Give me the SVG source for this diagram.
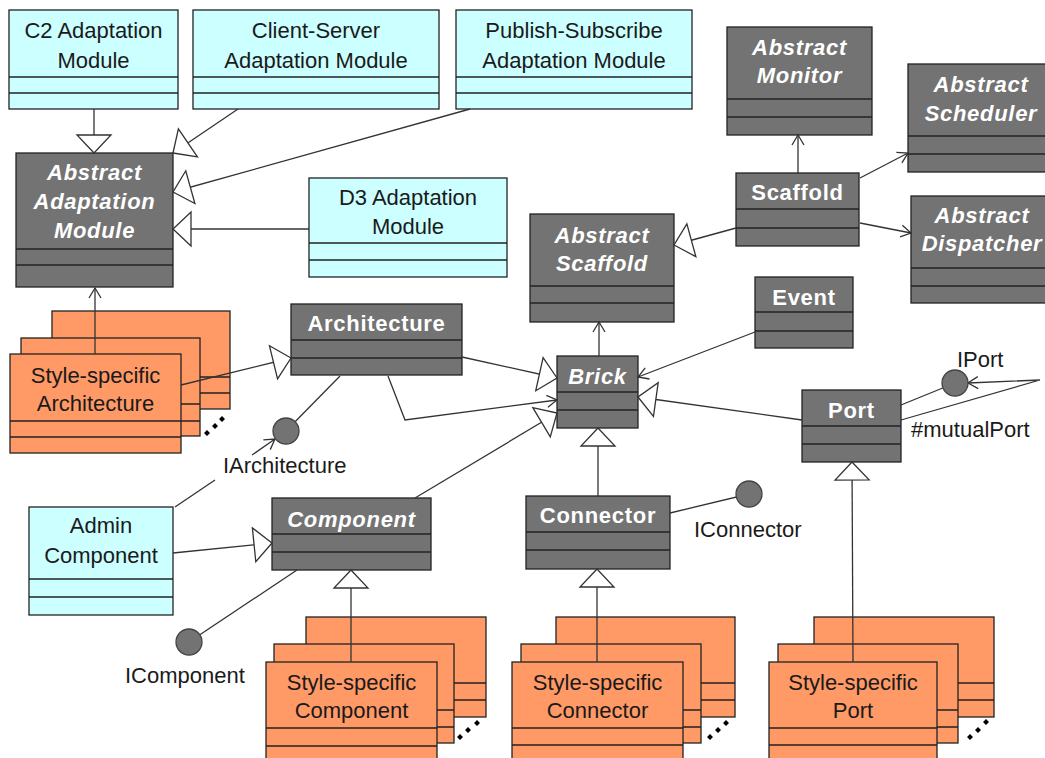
<svg xmlns="http://www.w3.org/2000/svg" width="1045" height="758" viewBox="0 0 1045 758">
<style>
.cy{fill:#CCFFFF;stroke:#222;stroke-width:1.3}
.dk{fill:#737373;stroke:#222;stroke-width:1.3}
.or{fill:#FF9966;stroke:#222;stroke-width:1.3}
.dv{stroke:#222;stroke-width:1.3}
.t{font-family:"Liberation Sans",Arial,sans-serif;font-size:22px;fill:#1a1a1a;text-anchor:middle}
.tb{font-family:"Liberation Sans",Arial,sans-serif;font-size:22px;fill:#fff;text-anchor:middle;font-weight:bold;letter-spacing:0.7px}
.ti{font-family:"Liberation Sans",Arial,sans-serif;font-size:22px;fill:#fff;text-anchor:middle;font-weight:bold;font-style:italic;letter-spacing:0.7px}
.lb{font-family:"Liberation Sans",Arial,sans-serif;font-size:22px;fill:#1a1a1a}
.c{stroke:#333;stroke-width:1.3;fill:none}
.ifc{fill:#737373;stroke:#444;stroke-width:1.3}
.dot{fill:#000}
</style>
<defs>
<marker id="gen" markerUnits="userSpaceOnUse" markerWidth="22" markerHeight="38" viewBox="-20 -19 22 38" refX="0" refY="0" orient="auto">
<path d="M0,0 L-18,-17 L-18,17 Z" fill="#fff" stroke="#333" stroke-width="1.3"/>
</marker>
<marker id="arr" markerUnits="userSpaceOnUse" markerWidth="14" markerHeight="16" viewBox="-12 -8 14 16" refX="0" refY="0" orient="auto">
<path d="M-10,-6 L0,0 L-10,6" fill="none" stroke="#333" stroke-width="1.3"/>
</marker>
</defs>

<g id="c2-adaptation-module">
<rect class="cy" x="9" y="10" width="169" height="99"/>
<line class="dv" x1="9" y1="77" x2="178" y2="77"/><line class="dv" x1="9" y1="93" x2="178" y2="93"/>
<text class="t" x="93.5" y="38">C2 Adaptation</text><text class="t" x="93.5" y="68">Module</text>
</g>
<g id="client-server-adaptation-module">
<rect class="cy" x="193" y="10" width="246" height="99"/>
<line class="dv" x1="193" y1="77" x2="439" y2="77"/><line class="dv" x1="193" y1="93" x2="439" y2="93"/>
<text class="t" x="316" y="38">Client-Server</text><text class="t" x="316" y="68">Adaptation Module</text>
</g>
<g id="publish-subscribe-adaptation-module">
<rect class="cy" x="456" y="10" width="236" height="99"/>
<line class="dv" x1="456" y1="77" x2="692" y2="77"/><line class="dv" x1="456" y1="93" x2="692" y2="93"/>
<text class="t" x="574" y="38">Publish-Subscribe</text><text class="t" x="574" y="68">Adaptation Module</text>
</g>
<g id="abstract-adaptation-module">
<rect class="dk" x="16" y="153" width="157" height="134"/>
<line class="dv" x1="16" y1="249" x2="173" y2="249"/><line class="dv" x1="16" y1="265" x2="173" y2="265"/>
<text class="ti" x="94.5" y="180">Abstract</text><text class="ti" x="94.5" y="209">Adaptation</text><text class="ti" x="94.5" y="238">Module</text>
</g>
<g id="d3-adaptation-module">
<rect class="cy" x="309" y="178" width="198" height="99"/>
<line class="dv" x1="309" y1="243" x2="507" y2="243"/><line class="dv" x1="309" y1="260" x2="507" y2="260"/>
<text class="t" x="408" y="205">D3 Adaptation</text><text class="t" x="408" y="234">Module</text>
</g>
<g id="abstract-scaffold">
<rect class="dk" x="530" y="214" width="144" height="108"/>
<line class="dv" x1="530" y1="286" x2="674" y2="286"/><line class="dv" x1="530" y1="303" x2="674" y2="303"/>
<text class="ti" x="602" y="243">Abstract</text><text class="ti" x="602" y="271">Scaffold</text>
</g>
<g id="abstract-monitor">
<rect class="dk" x="727" y="27" width="145" height="108"/>
<line class="dv" x1="727" y1="99" x2="872" y2="99"/><line class="dv" x1="727" y1="117" x2="872" y2="117"/>
<text class="ti" x="799.5" y="55">Abstract</text><text class="ti" x="799.5" y="83">Monitor</text>
</g>
<g id="abstract-scheduler">
<rect class="dk" x="908" y="64" width="146" height="108"/>
<line class="dv" x1="908" y1="136" x2="1054" y2="136"/><line class="dv" x1="908" y1="154" x2="1054" y2="154"/>
<text class="ti" x="981" y="92">Abstract</text><text class="ti" x="981" y="121">Scheduler</text>
</g>
<g id="scaffold">
<rect class="dk" x="736" y="173" width="123" height="73"/>
<line class="dv" x1="736" y1="209" x2="859" y2="209"/><line class="dv" x1="736" y1="228" x2="859" y2="228"/>
<text class="tb" x="797.5" y="200">Scaffold</text>
</g>
<g id="abstract-dispatcher">
<rect class="dk" x="911" y="196" width="143" height="107"/>
<line class="dv" x1="911" y1="268" x2="1054" y2="268"/><line class="dv" x1="911" y1="286" x2="1054" y2="286"/>
<text class="ti" x="982" y="223">Abstract</text><text class="ti" x="982" y="251">Dispatcher</text>
</g>
<g id="event">
<rect class="dk" x="755" y="277" width="98" height="71"/>
<line class="dv" x1="755" y1="312" x2="853" y2="312"/><line class="dv" x1="755" y1="331" x2="853" y2="331"/>
<text class="tb" x="804" y="305">Event</text>
</g>
<g id="architecture">
<rect class="dk" x="291" y="304" width="171" height="71"/>
<line class="dv" x1="291" y1="340" x2="462" y2="340"/><line class="dv" x1="291" y1="358" x2="462" y2="358"/>
<text class="tb" x="376.5" y="331">Architecture</text>
</g>
<g id="brick">
<rect class="dk" x="557" y="356" width="81" height="72"/>
<line class="dv" x1="557" y1="392" x2="638" y2="392"/><line class="dv" x1="557" y1="410" x2="638" y2="410"/>
<text class="ti" x="597.5" y="384">Brick</text>
</g>
<g id="port">
<rect class="dk" x="802" y="390" width="99" height="72"/>
<line class="dv" x1="802" y1="426" x2="901" y2="426"/><line class="dv" x1="802" y1="444" x2="901" y2="444"/>
<text class="tb" x="851.5" y="418">Port</text>
</g>
<g id="admin-component">
<rect class="cy" x="29" y="507" width="144" height="108"/>
<line class="dv" x1="29" y1="579" x2="173" y2="579"/><line class="dv" x1="29" y1="597" x2="173" y2="597"/>
<text class="t" x="101" y="533">Admin</text><text class="t" x="101" y="563">Component</text>
</g>
<g id="component">
<rect class="dk" x="272" y="498" width="159" height="72"/>
<line class="dv" x1="272" y1="534" x2="431" y2="534"/><line class="dv" x1="272" y1="552" x2="431" y2="552"/>
<text class="ti" x="351.5" y="527">Component</text>
</g>
<g id="connector">
<rect class="dk" x="526" y="496" width="144" height="73"/>
<line class="dv" x1="526" y1="532" x2="670" y2="532"/><line class="dv" x1="526" y1="550" x2="670" y2="550"/>
<text class="tb" x="598" y="523">Connector</text>
</g>

<g id="style-specific-architecture">
<rect class="or" x="52" y="311" width="178" height="98"/>
<line class="dv" x1="52" y1="377" x2="230" y2="377"/><line class="dv" x1="52" y1="393" x2="230" y2="393"/>
<rect class="or" x="21" y="338" width="179" height="98"/>
<line class="dv" x1="21" y1="404" x2="200" y2="404"/><line class="dv" x1="21" y1="421" x2="200" y2="421"/>
<rect class="or" x="10" y="354" width="171" height="99"/>
<line class="dv" x1="10" y1="421" x2="181" y2="421"/><line class="dv" x1="10" y1="437" x2="181" y2="437"/>
<text class="t" x="95.5" y="383">Style-specific</text><text class="t" x="95.5" y="411">Architecture</text>
<path class="dot" d="M207,430 l3,3 l-3,3 l-3,-3 Z M215,423 l3,3 l-3,3 l-3,-3 Z M222,416 l3,3 l-3,3 l-3,-3 Z"/>
</g>
<g id="style-specific-component">
<rect class="or" x="306" y="617" width="180" height="100"/>
<line class="dv" x1="306" y1="683" x2="486" y2="683"/><line class="dv" x1="306" y1="700" x2="486" y2="700"/>
<rect class="or" x="274" y="644" width="180" height="99"/>
<line class="dv" x1="274" y1="710" x2="454" y2="710"/><line class="dv" x1="274" y1="727" x2="454" y2="727"/>
<rect class="or" x="266" y="662" width="171" height="99"/>
<line class="dv" x1="266" y1="728" x2="437" y2="728"/><line class="dv" x1="266" y1="746" x2="437" y2="746"/>
<text class="t" x="351.5" y="690">Style-specific</text><text class="t" x="351.5" y="718">Component</text>
<path class="dot" d="M460,734 l3,3 l-3,3 l-3,-3 Z M468,727 l3,3 l-3,3 l-3,-3 Z M477,720 l3,3 l-3,3 l-3,-3 Z"/>
</g>
<g id="style-specific-connector">
<rect class="or" x="556" y="617" width="179" height="100"/>
<line class="dv" x1="556" y1="683" x2="735" y2="683"/><line class="dv" x1="556" y1="700" x2="735" y2="700"/>
<rect class="or" x="521" y="644" width="180" height="99"/>
<line class="dv" x1="521" y1="710" x2="701" y2="710"/><line class="dv" x1="521" y1="727" x2="701" y2="727"/>
<rect class="or" x="512" y="662" width="171" height="99"/>
<line class="dv" x1="512" y1="728" x2="683" y2="728"/><line class="dv" x1="512" y1="745" x2="683" y2="745"/>
<text class="t" x="597.5" y="690">Style-specific</text><text class="t" x="597.5" y="718">Connector</text>
<path class="dot" d="M710,734 l3,3 l-3,3 l-3,-3 Z M718,727 l3,3 l-3,3 l-3,-3 Z M726,720 l3,3 l-3,3 l-3,-3 Z"/>
</g>
<g id="style-specific-port">
<rect class="or" x="814" y="617" width="180" height="100"/>
<line class="dv" x1="814" y1="683" x2="994" y2="683"/><line class="dv" x1="814" y1="700" x2="994" y2="700"/>
<rect class="or" x="778" y="644" width="180" height="99"/>
<line class="dv" x1="778" y1="710" x2="958" y2="710"/><line class="dv" x1="778" y1="727" x2="958" y2="727"/>
<rect class="or" x="769" y="662" width="168" height="99"/>
<line class="dv" x1="769" y1="728" x2="937" y2="728"/><line class="dv" x1="769" y1="745" x2="937" y2="745"/>
<text class="t" x="853" y="690">Style-specific</text><text class="t" x="853" y="718">Port</text>
<path class="dot" d="M970,734 l3,3 l-3,3 l-3,-3 Z M978,727 l3,3 l-3,3 l-3,-3 Z M986,719 l3,3 l-3,3 l-3,-3 Z"/>
</g>

<g id="connectors">
<line class="c" x1="94" y1="109" x2="94" y2="153" marker-end="url(#gen)"/>
<line class="c" x1="238" y1="109" x2="173" y2="153" marker-end="url(#gen)"/>
<line class="c" x1="470" y1="109" x2="173" y2="192" marker-end="url(#gen)"/>
<line class="c" x1="309" y1="229" x2="173" y2="229" marker-end="url(#gen)"/>
<line class="c" x1="95" y1="354" x2="95" y2="288" marker-end="url(#arr)"/>
<line class="c" x1="181" y1="385" x2="291" y2="358" marker-end="url(#gen)"/>
<line class="c" x1="462" y1="357" x2="557" y2="378" marker-end="url(#gen)"/>
<polyline class="c" points="388,376 405,420 557,400" marker-end="url(#arr)"/>
<line class="c" x1="415" y1="498" x2="557" y2="413" marker-end="url(#gen)"/>
<line class="c" x1="802" y1="420" x2="638" y2="397" marker-end="url(#gen)"/>
<line class="c" x1="755" y1="332" x2="638" y2="377" marker-end="url(#arr)"/>
<line class="c" x1="599" y1="356" x2="599" y2="322" marker-end="url(#arr)"/>
<line class="c" x1="598" y1="496" x2="598" y2="428" marker-end="url(#gen)"/>
<line class="c" x1="736" y1="228" x2="674" y2="245" marker-end="url(#gen)"/>
<line class="c" x1="798" y1="173" x2="798" y2="135" marker-end="url(#arr)"/>
<line class="c" x1="860" y1="178" x2="908" y2="153" marker-end="url(#arr)"/>
<line class="c" x1="860" y1="223" x2="911" y2="233" marker-end="url(#arr)"/>
<line class="c" x1="351" y1="662" x2="351" y2="570" marker-end="url(#gen)"/>
<line class="c" x1="597" y1="662" x2="597" y2="569" marker-end="url(#gen)"/>
<line class="c" x1="853" y1="662" x2="852" y2="462" marker-end="url(#gen)"/>
<line class="c" x1="173" y1="553" x2="272" y2="543" marker-end="url(#gen)"/>
<line class="c" x1="175" y1="507" x2="215" y2="480"/>
<line class="c" x1="252" y1="455" x2="275" y2="439" marker-end="url(#arr)"/>
<line class="c" x1="340" y1="376" x2="286" y2="431"/>
<line class="c" x1="297" y1="570" x2="189" y2="642"/>
<line class="c" x1="670" y1="513" x2="749" y2="494"/>
<line class="c" x1="901" y1="405" x2="955" y2="383"/>
<polyline class="c" points="901,420 1040,380 968,383" marker-end="url(#arr)"/>
</g>

<g id="iarchitecture">
<circle class="ifc" cx="286" cy="431" r="13"/>
<text class="lb" x="223" y="473">IArchitecture</text>
</g>
<g id="icomponent">
<circle class="ifc" cx="189" cy="642" r="13"/>
<text class="lb" x="125" y="683">IComponent</text>
</g>
<g id="iconnector">
<circle class="ifc" cx="749" cy="494" r="13"/>
<text class="lb" x="694" y="537">IConnector</text>
</g>
<g id="iport">
<circle class="ifc" cx="955" cy="383" r="13"/>
<text class="lb" x="957" y="367">IPort</text>
</g>
<text class="lb" x="911" y="437">#mutualPort</text>
</svg>
